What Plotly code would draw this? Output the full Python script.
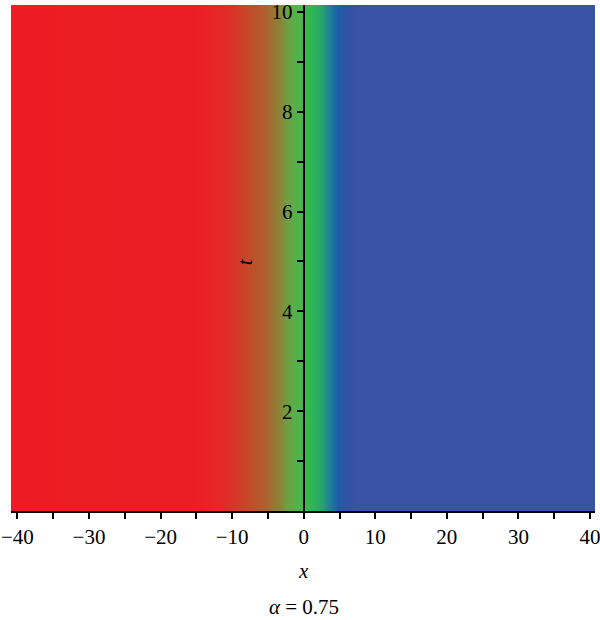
import numpy as np
import plotly.graph_objects as go

# Colour read across x (the field depends on x only)
stop_x = [-41, -15, -11, -8, -5.5, -3.5, -2, -0.5, 1, 2.5, 3.7, 4.8, 6, 8, 41]
stop_colors = [
    "rgb(237,28,36)", "rgb(236,30,37)", "rgb(226,42,40)", "rgb(200,70,42)",
    "rgb(175,95,45)", "rgb(140,130,55)", "rgb(105,165,70)", "rgb(75,182,78)",
    "rgb(45,186,80)", "rgb(38,165,110)", "rgb(30,125,155)", "rgb(28,92,170)",
    "rgb(50,82,165)", "rgb(57,83,164)", "rgb(57,83,164)",
]
x_ticks = [-40, -30, -20, -10, 0, 10, 20, 30, 40]
x_minor = [-35, -25, -15, -5, 5, 15, 25, 35]
t_ticks = [2, 4, 6, 8, 10]
t_minor = [1, 3, 5, 7, 9]
caption = "<i>α</i> = 0.75"

x_lo, x_hi = -40.9, 40.7
t_lo, t_hi = 0, 10.14

xs = np.linspace(stop_x[0], stop_x[-1], 821)
ts = [t_lo - 1, t_hi + 1]
z = [list(xs), list(xs)]
span = stop_x[-1] - stop_x[0]
colorscale = [[(sx - stop_x[0]) / span, c] for sx, c in zip(stop_x, stop_colors)]

fig = go.Figure(go.Heatmap(x=xs, y=ts, z=z, colorscale=colorscale, showscale=False,
                           zmin=stop_x[0], zmax=stop_x[-1], hoverinfo="skip"))

yaxis_pos = (0 - x_lo) / (x_hi - x_lo)
font = dict(family="Liberation Serif, Times New Roman, serif", size=21, color="black")

fig.update_layout(
    width=600, height=620,
    margin=dict(l=11, r=5, t=5, b=109),
    paper_bgcolor="white", plot_bgcolor="white",
    font=font,
    xaxis=dict(range=[x_lo, x_hi], showgrid=False, zeroline=False, automargin=False,
               ticklabeloverflow="allow",
               showline=True, linecolor="black", linewidth=2,
               tickvals=x_ticks, ticks="outside", ticklen=6, tickwidth=1.5, tickcolor="black",
               minor=dict(tickvals=x_minor, ticks="outside", ticklen=6, tickwidth=1.5, tickcolor="black"),
               tickfont=font),
    yaxis=dict(range=[t_lo, t_hi], showgrid=False, zeroline=False, automargin=False,
               ticklabeloverflow="allow",
               anchor="free", position=yaxis_pos,
               showline=True, linecolor="black", linewidth=2,
               tickvals=t_ticks, ticks="outside", ticklen=6, tickwidth=1.5, tickcolor="black",
               minor=dict(tickvals=t_minor, ticks="outside", ticklen=6, tickwidth=1.5, tickcolor="black"),
               tickfont=font),
    annotations=[
        dict(text="<i>t</i>", x=-8.1, y=5.0, xref="x", yref="y", showarrow=False,
             textangle=-90, font=font),
        dict(text="<i>x</i>", x=yaxis_pos, y=-0.1186, xref="paper", yref="paper",
             showarrow=False, yanchor="middle", font=font),
        dict(text=caption, x=yaxis_pos, y=-0.189, xref="paper", yref="paper",
             showarrow=False, yanchor="middle", font=font),
    ],
)

fig.write_html("out.html", config={"displayModeBar": False},
               post_script="document.body.style.margin='0px';document.body.style.padding='0px';")
